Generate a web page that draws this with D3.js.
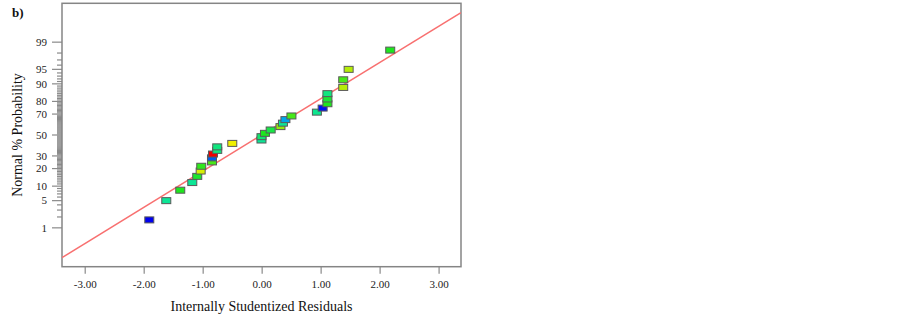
<!DOCTYPE html>
<html>
<head>
	<meta charset="utf-8">
	<title>b) Normal plot of residuals</title>
	<script src="https://d3js.org/d3.v7.min.js"></script>
	<style>
		body { margin: 0; background: #fff; }
		.chart text { font-family: "Liberation Serif", "Times New Roman", serif; }
	</style>
</head>
<body>
	<div class="chart"></div>

	<script type="text/javascript">

		// residuals (x) and normal % probability (y), sorted by rank
		var residuals = [-1.905, -1.617, -1.380, -1.176, -1.092, -1.034, -1.024, -0.842, -0.842, -0.825,
			-0.753, -0.753, -0.498, -0.003, -0.003, 0.056, 0.153, 0.319, 0.361, 0.403,
			0.505, 0.937, 1.034, 1.115, 1.115, 1.115, 1.383, 1.383, 1.475, 2.180]
		var probability = [1.67, 5, 8.33, 11.67, 15, 18.33, 21.67, 25, 28.33, 31.67,
			35, 38.33, 41.67, 45, 48.33, 51.67, 55, 58.33, 61.67, 65,
			68.33, 71.67, 75, 78.33, 81.67, 85, 88.33, 91.67, 95, 98.33]
		// response level of each run (0 = low / blue, 1 = high / red)
		var responseLevel = [0, 0.35, 0.5, 0.35, 0.48, 0.72, 0.52, 0.55, 0.1, 1,
			0.38, 0.38, 0.75, 0.35, 0.4, 0.5, 0.45, 0.64, 0.35, 0.18,
			0.55, 0.36, 0.02, 0.5, 0.47, 0.38, 0.68, 0.55, 0.68, 0.5]

		var xTicks = [-3, -2, -1, 0, 1, 2, 3]
		var yTicks = [1, 5, 10, 20, 30, 50, 70, 80, 90, 95, 99]
		var lineSlope = 0.908   // z per residual, through (0, 50%)

		var width = 903
		var height = 319
		var plot = { left: 62, right: 461, top: 3.3, bottom: 266.7 }

		// inverse normal cdf (Acklam)
		function probit(p) {
			var a = [-39.69683028665376, 220.9460984245205, -275.9285104469687, 138.3577518672690, -30.66479806614716, 2.506628277459239]
			var b = [-54.47609879822406, 161.5858368580409, -155.6989798598866, 66.80131188771972, -13.28068155288572]
			var c = [-0.007784894002430293, -0.3223964580411365, -2.400758277161838, -2.549732539343734, 4.374664141464968, 2.938163982698783]
			var d = [0.007784695709041462, 0.3224671290700398, 2.445134137142996, 3.754408661907416]
			var q, r
			if (p < 0.02425) {
				q = Math.sqrt(-2 * Math.log(p))
				return (((((c[0] * q + c[1]) * q + c[2]) * q + c[3]) * q + c[4]) * q + c[5]) / ((((d[0] * q + d[1]) * q + d[2]) * q + d[3]) * q + 1)
			}
			if (p > 1 - 0.02425) {
				q = Math.sqrt(-2 * Math.log(1 - p))
				return -(((((c[0] * q + c[1]) * q + c[2]) * q + c[3]) * q + c[4]) * q + c[5]) / ((((d[0] * q + d[1]) * q + d[2]) * q + d[3]) * q + 1)
			}
			q = p - 0.5
			r = q * q
			return (((((a[0] * r + a[1]) * r + a[2]) * r + a[3]) * r + a[4]) * r + a[5]) * q / (((((b[0] * r + b[1]) * r + b[2]) * r + b[3]) * r + b[4]) * r + 1)
		}

		var svg = d3
			.select('.chart')
			.append('svg')
			.attr('width', width)
			.attr('height', height)
			.style('background-color', '#fff')

		// scales
		var xScale = d3
			.scaleLinear()
			.domain([-3.385, 3.38])
			.range([plot.left, plot.right])

		var zScale = d3
			.scaleLinear()
			.domain([-3.3, 3.3])
			.range([plot.bottom, plot.top])
		var yScale = p => zScale(probit(p / 100))

		var colorScale = d3
			.scaleLinear()
			.domain([0, 0.25, 0.5, 0.75, 1])
			.range(['#0000f0', '#00e6e6', '#1ee61e', '#f0f000', '#f00000'])

		// x axis
		var xAxis = d3.axisBottom(xScale)
			.tickValues(xTicks)
			.tickFormat(d => d.toFixed(2))
			.tickSize(7)
			.tickSizeOuter(0)
		var gx = svg.append('g')
			.attr('transform', `translate(0, ${plot.bottom})`)
			.call(xAxis)
			.attr('font-family', null)
		gx.select('.domain').remove()

		// y axis: labelled ticks + minor ticks every 1%
		var minor = d3.range(2, 99).filter(v => yTicks.indexOf(v) < 0)
		var gy = svg.append('g')
		gy.selectAll('line.minor')
			.data(minor)
			.enter()
			.append('line')
			.attr('class', 'minor')
			.attr('x1', plot.left - 5)
			.attr('x2', plot.left)
			.attr('y1', d => yScale(d))
			.attr('y2', d => yScale(d))
		gy.selectAll('line.major')
			.data(yTicks)
			.enter()
			.append('line')
			.attr('class', 'major')
			.attr('x1', plot.left - 10)
			.attr('x2', plot.left)
			.attr('y1', d => yScale(d))
			.attr('y2', d => yScale(d))
		gy.selectAll('text')
			.data(yTicks)
			.enter()
			.append('text')
			.attr('x', plot.left - 15)
			.attr('y', d => yScale(d))
			.attr('dy', '0.35em')
			.attr('text-anchor', 'end')
			.text(d => d)

		svg.selectAll('g line').attr('stroke', '#8a8a8a').attr('stroke-width', 1.2)
		svg.selectAll('g text')
			.attr('fill', '#222')
			.style('font-size', '11px')
		gx.selectAll('.tick text').attr('dy', '1.0em')

		// frame
		svg.append('rect')
			.attr('x', plot.left)
			.attr('y', plot.top)
			.attr('width', plot.right - plot.left)
			.attr('height', plot.bottom - plot.top)
			.attr('fill', 'none')
			.attr('stroke', '#858585')
			.attr('stroke-width', 1.5)

		// reference line
		svg.append('clipPath')
			.attr('id', 'clip')
			.append('rect')
			.attr('x', plot.left)
			.attr('y', plot.top)
			.attr('width', plot.right - plot.left)
			.attr('height', plot.bottom - plot.top)

		var ends = xScale.domain()
		svg.append('line')
			.attr('clip-path', 'url(#clip)')
			.attr('x1', xScale(ends[0]))
			.attr('y1', zScale(ends[0] * lineSlope))
			.attr('x2', xScale(ends[1]))
			.attr('y2', zScale(ends[1] * lineSlope))
			.attr('stroke', '#f87070')
			.attr('stroke-width', 1.5)

		// points
		var points = residuals.map((r, i) => ({ r: r, p: probability[i], level: responseLevel[i] }))
		svg.append('g')
			.selectAll('rect')
			.data(points)
			.enter()
			.append('rect')
			.attr('x', d => xScale(d.r) - 4.5)
			.attr('y', d => yScale(d.p) - 3)
			.attr('width', 9)
			.attr('height', 6)
			.attr('fill', d => colorScale(d.level))
			.attr('stroke', '#5a5a5a')
			.attr('stroke-width', 1)

		// axis titles
		svg.append('text')
			.attr('x', (plot.left + plot.right) / 2)
			.attr('y', 311)
			.attr('text-anchor', 'middle')
			.style('font-size', '14px')
			.attr('fill', '#111')
			.text('Internally Studentized Residuals')

		svg.append('text')
			.attr('transform', `translate(22, ${(plot.top + plot.bottom) / 2}) rotate(-90)`)
			.attr('text-anchor', 'middle')
			.style('font-size', '14px')
			.attr('fill', '#111')
			.text('Normal % Probability')

		svg.append('text')
			.attr('x', 12)
			.attr('y', 17)
			.style('font-size', '13px')
			.style('font-weight', 'bold')
			.attr('fill', '#111')
			.text('b)')

	</script>
</body>
</html>
